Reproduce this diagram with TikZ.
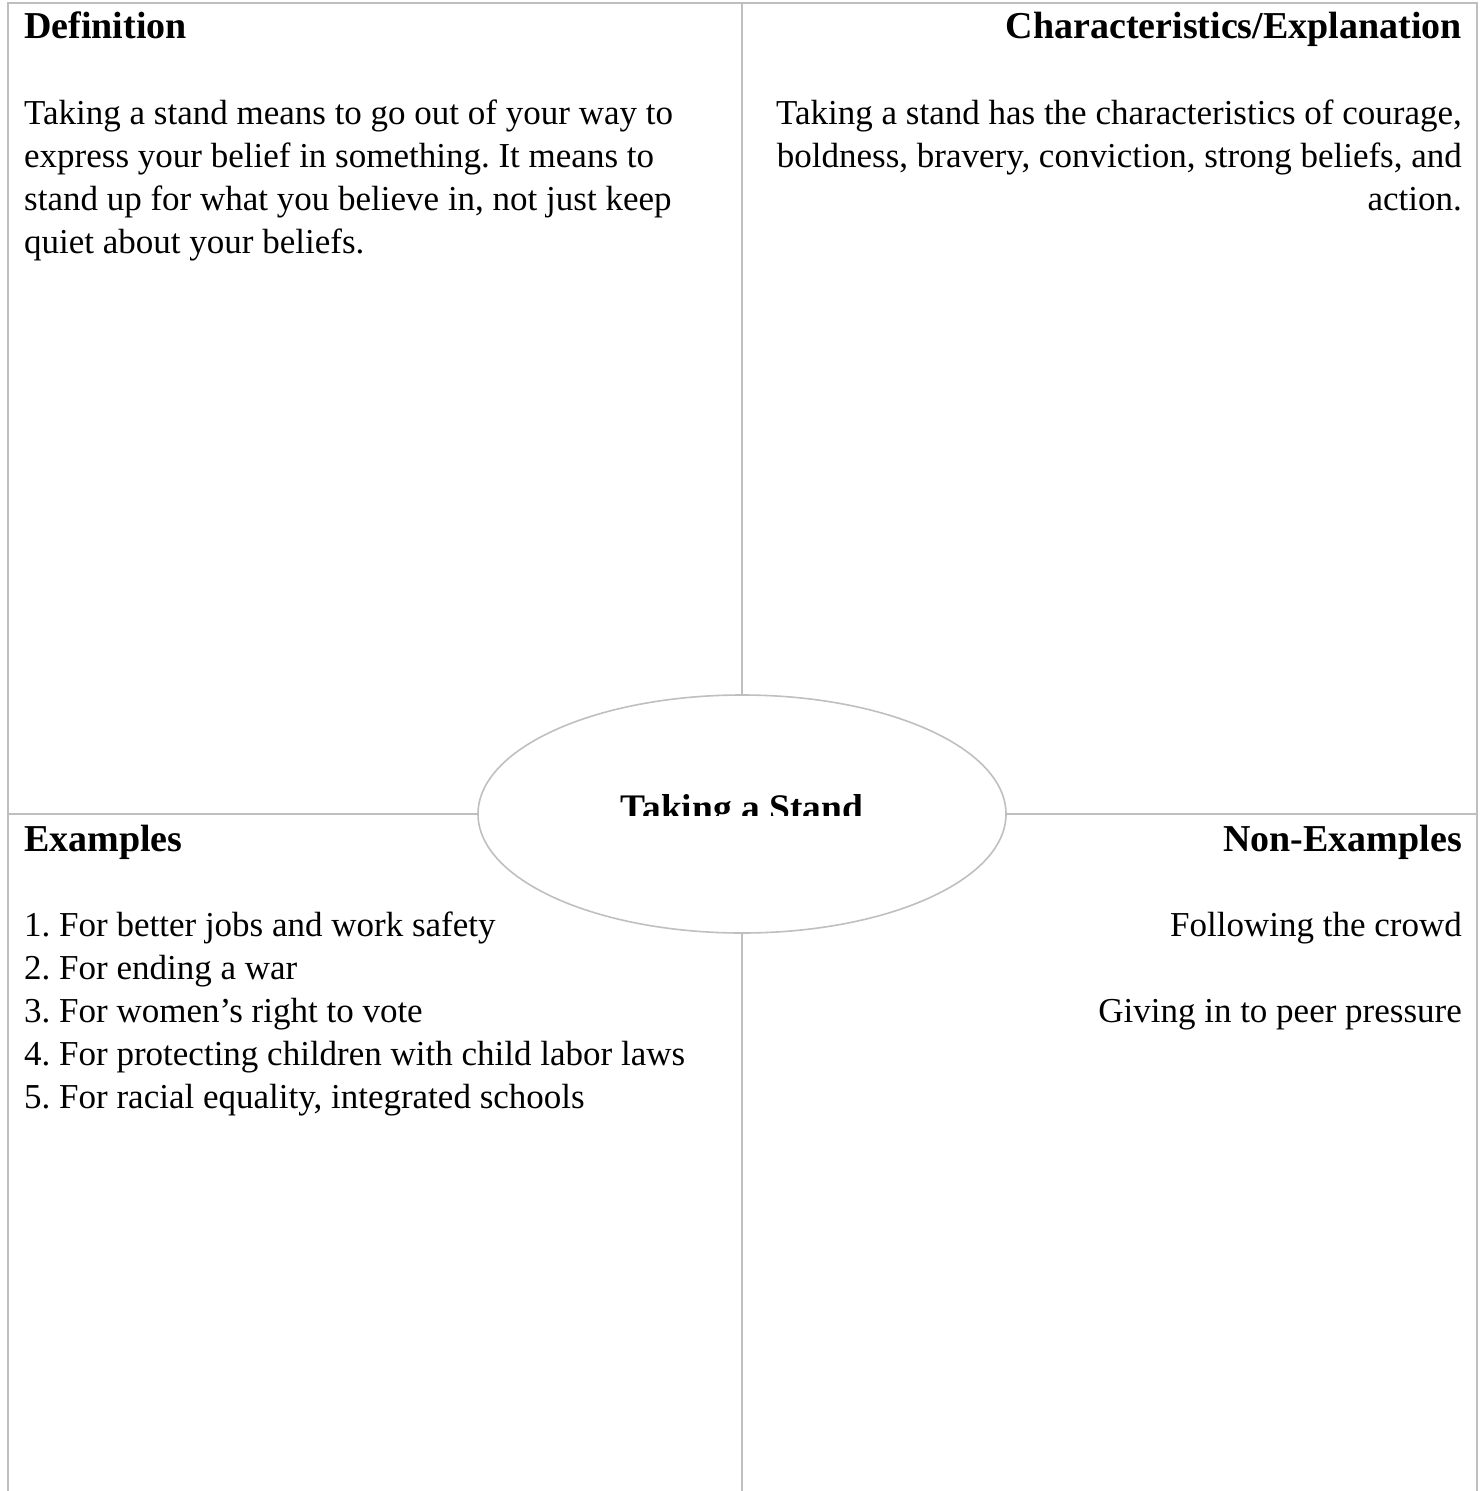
\documentclass[tikz,border=0pt]{standalone}
\usepackage{fontspec}
\setmainfont{Liberation Serif}
\usetikzlibrary{shapes.geometric}
\definecolor{rulegray}{RGB}{191,191,191}
\frenchspacing
\begin{document}
\begin{tikzpicture}[x=1pt,y=-1pt,
  rulel/.style={draw=rulegray,line width=1.6pt},
  head/.style={inner sep=0pt,font=\fontsize{38}{44}\selectfont\bfseries},
  body/.style={inner sep=0pt,font=\fontsize{35}{43}\selectfont\frenchspacing},
  lft/.style={anchor=base west},
  rgt/.style={anchor=base east}]
\useasboundingbox (0,0) rectangle (1482,1491);
% centre ellipse
\node[ellipse,draw=rulegray,line width=1.6pt,minimum width=528pt,minimum height=238pt,inner sep=0pt,outer sep=0pt] (hub) at (742,814) {};
\coordinate (tl) at (8,3);
\coordinate (tr) at (1477,3);
\coordinate (bl) at (8,1491);
\coordinate (br) at (1477,1491);
\coordinate (tm) at (742,3);
\coordinate (bm) at (742,1491);
\coordinate (ml) at (8,814);
\coordinate (mr) at (1477,814);
\draw[rulel] (bl) -- (tl) -- (tr) -- (br);
\draw[rulel] (tm) -- (hub.north);
\draw[rulel] (hub.south) -- (bm);
\draw[rulel] (ml) -- (hub.west);
\draw[rulel] (hub.east) -- (mr);
% clipped title
\begin{scope}
\clip (0,0) rectangle (1482,815);
\node[inner sep=0pt,anchor=base,font=\fontsize{37.5}{40}\selectfont\bfseries] (title) at (742,820) {Taking a Stand};
\end{scope}
% headings
\node[head,lft] (hdef) at (24,38) {Definition};
\node[head,rgt] (hchar) at (1462,38) {Characteristics/Explanation};
\node[head,lft] (hex) at (24,851) {Examples};
\node[head,rgt] (hnon) at (1462,851) {Non-Examples};
% definition
\node[body,lft] (d1) at (24,124) {Taking a stand means to go out of your way to};
\node[body,lft] (d2) at (24,167) {express your belief in something. It means to};
\node[body,lft] (d3) at (24,210) {stand up for what you believe in, not just keep};
\node[body,lft] (d4) at (24,253) {quiet about your beliefs.};
% characteristics
\node[body,rgt] (c1) at (1462,124) {Taking a stand has the characteristics of courage,};
\node[body,rgt] (c2) at (1462,167) {boldness, bravery, conviction, strong beliefs, and};
\node[body,rgt] (c3) at (1462,210) {action.};
% examples
\node[body,lft] (e1) at (24,936) {1. For better jobs and work safety};
\node[body,lft] (e2) at (24,979) {2. For ending a war};
\node[body,lft] (e3) at (24,1022) {3. For women’s right to vote};
\node[body,lft] (e4) at (24,1065) {4. For protecting children with child labor laws};
\node[body,lft] (e5) at (24,1108) {5. For racial equality, integrated schools};
% non-examples
\node[body,rgt] (n1) at (1462,936) {Following the crowd};
\node[body,rgt] (n2) at (1462,1022) {Giving in to peer pressure};
\end{tikzpicture}
\end{document}
